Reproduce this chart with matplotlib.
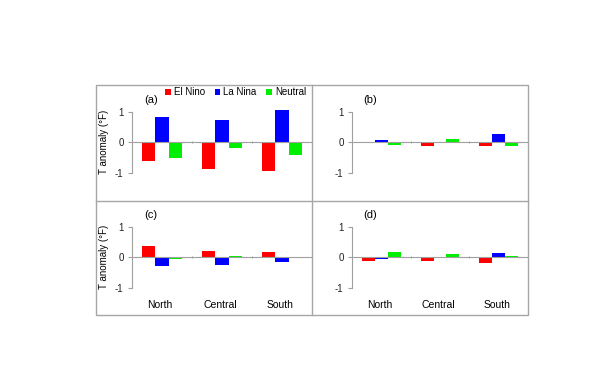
import numpy as np
import matplotlib
matplotlib.use("Agg")
import matplotlib.pyplot as plt
from matplotlib.patches import Rectangle
from matplotlib.lines import Line2D

plt.rcParams['font.family'] = ['Liberation Sans', 'DejaVu Sans']

regions = ["North", "Central", "South"]
series = ["El Nino", "La Nina", "Neutral"]
colors = ["#ff0000", "#0000ff", "#00ee00"]
panel_labels = ["(a)", "(b)", "(c)", "(d)"]

# T anomaly (deg F) per panel: rows = El Nino, La Nina, Neutral; cols = North, Central, South
a_vals = [[-0.60, -0.87, -0.93],
          [0.82, 0.75, 1.06],
          [-0.50, -0.19, -0.42]]
b_vals = [[0.01, -0.11, -0.13],
          [0.08, 0.0, 0.26],
          [-0.10, 0.12, -0.12]]
c_vals = [[0.38, 0.21, 0.18],
          [-0.30, -0.24, -0.14],
          [-0.05, 0.04, -0.03]]
d_vals = [[-0.11, -0.12, -0.18],
          [-0.04, 0.0, 0.15],
          [0.16, 0.12, 0.03]]
panels = [a_vals, b_vals, c_vals, d_vals]

W, H = 600, 383
fig = plt.figure(figsize=(6, 3.83), dpi=100)
fig.patch.set_facecolor('white')

def fx(px):
    return px / W

def fy(py):
    return 1 - py / H

# outer frame and dividers (pixel coords)
frame_col = '#a6a6a6'
fig.add_artist(Rectangle((fx(96), fy(315)), fx(528) - fx(96), fy(85) - fy(315),
                         transform=fig.transFigure, fill=False, edgecolor=frame_col, lw=1))
fig.add_artist(Line2D([fx(312), fx(312)], [fy(85), fy(315)], transform=fig.transFigure,
                      color=frame_col, lw=1))
fig.add_artist(Line2D([fx(96), fx(528)], [fy(201), fy(201)], transform=fig.transFigure,
                      color=frame_col, lw=1))

ylim = 1.6
ppu = 30.4
lefts = [132, 352]
rights = [312, 528]
zeros = [142.3, 257.3]

x = np.arange(len(regions))
bw = 0.22
axes = []
for i, vals in enumerate(panels):
    r, c = divmod(i, 2)
    bot_px = zeros[r] + ylim * ppu
    ax = fig.add_axes([fx(lefts[c]), fy(bot_px), fx(rights[c]) - fx(lefts[c]), 2 * ylim * ppu / H])
    ax.set_facecolor('none')
    for k, s in enumerate(series):
        ax.bar(x + (k - 1) * bw, vals[k], bw, color=colors[k], label=s, zorder=3)
    ax.set_xlim(-0.5, 2.5)
    ax.set_ylim(-ylim, ylim)
    for sp in ['top', 'right']:
        ax.spines[sp].set_visible(False)
    ax.spines['left'].set_bounds(-1, 1)
    ax.spines['left'].set_color('#a0a0a0')
    ax.spines['bottom'].set_position(('data', 0))
    ax.spines['bottom'].set_color('#a0a0a0')
    ax.spines['bottom'].set_zorder(4)
    ax.set_yticks([-1, 0, 1])
    ax.set_yticklabels(["-1", "0", "1"])
    ax.tick_params(axis='y', length=3, width=0.8, color='#a0a0a0', labelsize=7, pad=3, labelcolor='#222222')
    ax.set_xticks([0.5, 1.5])
    ax.set_xticklabels([])
    ax.tick_params(axis='x', length=2, width=0.8, color='#a0a0a0', direction='inout')
    ax.text(-0.3, 1.38, panel_labels[i], fontsize=8, va='center')
    if c == 0:
        ax.set_ylabel("T anomaly (°F)", fontsize=7, labelpad=4)
    if r == 1:
        for j, name in enumerate(regions):
            ax.text(x[j] - 0.03, -1.57, name, fontsize=7.5, ha='center', va='center', clip_on=False)
    axes.append(ax)

axes[0].legend(loc='center', bbox_to_anchor=(0.575, 1.015), ncol=3, frameon=False, fontsize=7,
               handlelength=0.6, handleheight=0.6, handletextpad=0.3, columnspacing=1.0,
               borderaxespad=0, borderpad=0)

fig.savefig("out.png", dpi=100)
